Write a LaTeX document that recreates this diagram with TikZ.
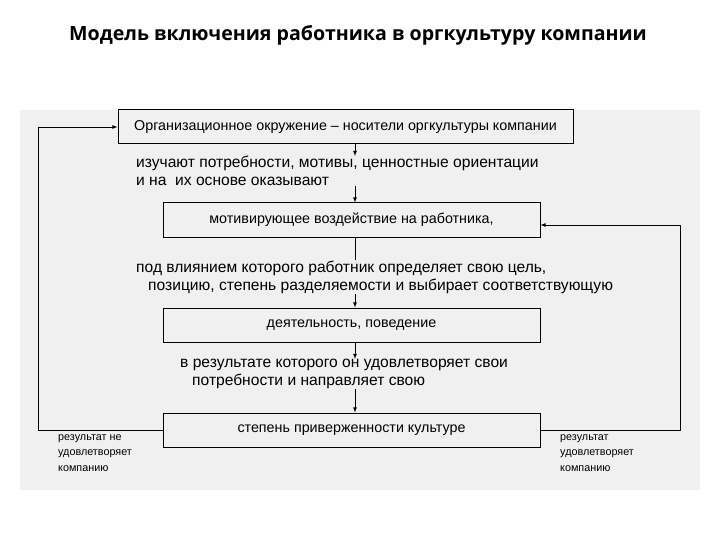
\documentclass[tikz,border=0pt]{standalone}
\usepackage{fontspec}
\setmainfont{Liberation Sans}
\newfontfamily\titlefont{Open Sans}
\begin{document}
\begin{tikzpicture}[x=1pt,y=-1pt,
  box/.style={draw,line width=1pt,minimum height=34pt,inner sep=0pt,font=\fontsize{14.3}{16}\selectfont},
  lbl/.style={font=\fontsize{15.6}{18}\selectfont,align=left,inner sep=0pt},
  arr/.style={-latex,line width=0.8pt}]
\useasboundingbox (0,0) rectangle (720,540);
\fill[gray!12] (20,110) rectangle (700,490);
\node[font=\titlefont\bfseries\fontsize{19.6}{22}\selectfont] (t) at (358,35) {Модель включения работника в оргкультуру компании};
\node[box,minimum width=455pt] (b1) at (345.5,127) {Организационное окружение – носители оргкультуры компании};
\node[box,minimum width=377pt] (b2) at (351.5,220) {мотивирующее воздействие на работника,};
\node[box,minimum width=377pt] (b3) at (351.5,325) {деятельность, поведение};
\node[box,minimum width=377pt] (b4) at (351.5,430) {степень приверженности культуре};
\node[lbl,anchor=west] (x1) at (136,171) {изучают потребности, мотивы, ценностные ориентации\\и на \ их основе оказывают};
\node[lbl,anchor=west] (x2) at (136,277) {под влиянием которого работник определяет свою цель,\\\hspace*{12pt}позицию, степень разделяемости и выбирает соответствующую};
\node[lbl,anchor=west] (x3) at (180,374) {в результате которого он удовлетворяет свои\\\hspace*{12pt}потребности и направляет свою};
\node[lbl,anchor=west,font=\fontsize{10.8}{15.5}\selectfont] (l) at (58,453) {результат не\\удовлетворяет\\компанию};
\node[lbl,anchor=west,font=\fontsize{10.8}{15.5}\selectfont] (r) at (560,453) {результат\\удовлетворяет\\компанию};
\draw[arr] (b1.south -| 355,0) -- (x1.north -| 355,0);
\draw[arr] (x1.south -| 355,0) -- (b2.north -| 355,0);
\draw[line width=0.8pt] (b2.south -| 355,0) -- (x2.north -| 355,0);
\draw[arr] (x2.south -| 355,0) -- (b3.north -| 355,0);
\draw[arr] (b3.south -| 355,0) -- (x3.north -| 355,0);
\draw[arr] (x3.south -| 355,0) -- (b4.north -| 355,0);
\coordinate (lc1) at (38,430); \coordinate (lc2) at (38,127);
\draw[arr] (b4.west) -- (lc1) -- (lc2) -- (b1.west);
\coordinate (rc1) at (680,430); \coordinate (rc2) at (680,225);
\draw[arr] (b4.east) -- (rc1) -- (rc2) -- (b2.east |- rc2);
\end{tikzpicture}
\end{document}
